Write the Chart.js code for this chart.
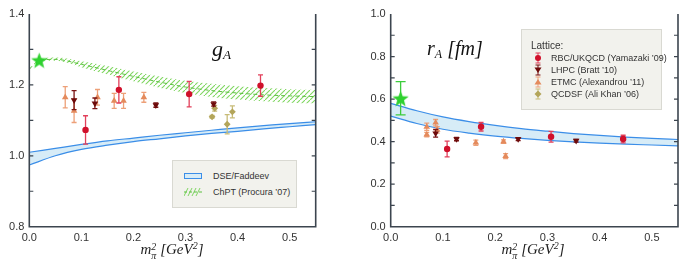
<!DOCTYPE html>
<html>
<head>
<meta charset="utf-8">
<script src="https://cdn.jsdelivr.net/npm/chart.js@4.4.0/dist/chart.umd.min.js"></script>
<style>
body { margin: 0; background: #fff; width: 691px; height: 270px; position: relative; overflow: hidden; font-family: "Liberation Sans", Arial, sans-serif; }
canvas { position: absolute; top: 0; }
#cGa { left: 0; }
#cRa { left: 345px; }
.ttl { position: absolute; font-family: "Liberation Serif", serif; font-style: italic; color: #111; white-space: nowrap; }
.ttl sub { font-size: 60%; vertical-align: -3px; }
.xt { position: absolute; top: 240px; font-family: "Liberation Serif", serif; font-style: italic; font-size: 15px; color: #222; white-space: nowrap; transform: translateX(-50%); }
.xt sup { font-size: 10px; vertical-align: 5px; }
.ss { display: inline-block; vertical-align: -5px; font-size: 10px; line-height: 9px; }
.ss span { display: block; }
.leg { position: absolute; background: #f2f2ed; border: 1px solid #d9d9d2; box-sizing: border-box; font-size: 9px; color: #333; }
.row { position: absolute; white-space: nowrap; line-height: 12px; }
.row svg { position: absolute; }
</style>
</head>
<body>
<canvas id="cGa" width="345" height="270"></canvas>
<canvas id="cRa" width="346" height="270"></canvas>

<div class="ttl" style="left:212px; top:36px; font-size:22px;">g<sub>A</sub></div>
<div class="ttl" style="left:427px; top:37px; font-size:20px;">r<sub>A</sub> [fm]</div>

<div class="xt" style="left:172px;">m<span class="ss"><span>2</span><span>π</span></span> [GeV<sup>2</sup>]</div>
<div class="xt" style="left:533px;">m<span class="ss"><span>2</span><span>π</span></span> [GeV<sup>2</sup>]</div>

<div class="leg" style="left:172px; top:160px; width:125px; height:48px;">
  <div class="row" style="left:11px; top:9px;">
    <svg width="18" height="6" style="left:0; top:3px;"><rect x="0.5" y="0.5" width="17" height="5" fill="#d7ecf7" stroke="#3b8ee8" stroke-width="1"/></svg>
    <span style="margin-left:29px;">DSE/Faddeev</span>
  </div>
  <div class="row" style="left:11px; top:25px;">
    <svg width="18" height="8" style="left:0; top:2px;">
      <g stroke="#7fd462" stroke-width="1"><line x1="0" y1="8" x2="4" y2="0"/><line x1="4" y1="8" x2="8" y2="0"/><line x1="8" y1="8" x2="12" y2="0"/><line x1="12" y1="8" x2="16" y2="0"/></g>
      <line x1="0" y1="4" x2="18" y2="4" stroke="#5cc040" stroke-width="1" stroke-dasharray="3,2"/>
    </svg>
    <span style="margin-left:29px;">ChPT (Procura ’07)</span>
  </div>
</div>

<div class="leg" style="left:521px; top:29px; width:141px; height:81px;">
  <div class="row" style="left:9px; top:10px; font-size:10px;">Lattice:</div>
  <div class="row" style="left:11px; top:22px;">
    <svg width="10" height="12" style="left:0; top:0;"><g stroke="#e0405a" stroke-width="1"><line x1="5" y1="1" x2="5" y2="11"/><line x1="2.5" y1="1" x2="7.5" y2="1"/><line x1="2.5" y1="11" x2="7.5" y2="11"/></g><circle cx="5" cy="6" r="3" fill="#d0102b"/></svg>
    <span style="margin-left:18px;">RBC/UKQCD (Yamazaki ’09)</span>
  </div>
  <div class="row" style="left:11px; top:34px;">
    <svg width="10" height="12" style="left:0; top:0;"><g stroke="#7a1010" stroke-width="1"><line x1="5" y1="1" x2="5" y2="11"/><line x1="2.5" y1="1" x2="7.5" y2="1"/><line x1="2.5" y1="11" x2="7.5" y2="11"/></g><polygon points="1.5,3.5 8.5,3.5 5,9" fill="#6d0a0a"/></svg>
    <span style="margin-left:18px;">LHPC (Bratt ’10)</span>
  </div>
  <div class="row" style="left:11px; top:46px;">
    <svg width="10" height="12" style="left:0; top:0;"><g stroke="#eda078" stroke-width="1"><line x1="5" y1="1" x2="5" y2="11"/><line x1="2.5" y1="1" x2="7.5" y2="1"/><line x1="2.5" y1="11" x2="7.5" y2="11"/></g><polygon points="1.5,8.5 8.5,8.5 5,3" fill="#e48a5c"/></svg>
    <span style="margin-left:18px;">ETMC (Alexandrou ’11)</span>
  </div>
  <div class="row" style="left:11px; top:58px;">
    <svg width="10" height="12" style="left:0; top:0;"><g stroke="#c8bc78" stroke-width="1"><line x1="5" y1="1" x2="5" y2="11"/><line x1="2.5" y1="1" x2="7.5" y2="1"/><line x1="2.5" y1="11" x2="7.5" y2="11"/></g><polygon points="5,2.5 8.5,6 5,9.5 1.5,6" fill="#b3a55a"/></svg>
    <span style="margin-left:18px;">QCDSF (Ali Khan ’06)</span>
  </div>
</div>

<script>
// axes
const xTickValues = [0, 0.1, 0.2, 0.3, 0.4, 0.5];
const gaTickValues = [0.8, 1.0, 1.2, 1.4];
const raTickValues = [0, 0.2, 0.4, 0.6, 0.8, 1.0];

// physical point (star)
const starX = [0.019];
const gaStarY = [1.27];
const raStarY = [0.604];
const raStarErr = [0.078];

// g_A lattice data
const rbcGaX = [0.108, 0.172, 0.307, 0.444];
const rbcGaY = [1.073, 1.186, 1.174, 1.198];
const rbcGaErr = [0.040, 0.037, 0.036, 0.030];
const lhpcGaX = [0.086, 0.126, 0.243, 0.354];
const lhpcGaY = [1.157, 1.148, 1.143, 1.146];
const lhpcGaErr = [0.027, 0.015, 0.006, 0.006];
const etmcGaX = [0.069, 0.086, 0.131, 0.163, 0.181, 0.220];
const etmcGaY = [1.165, 1.127, 1.165, 1.155, 1.155, 1.165];
const etmcGaErr = [0.030, 0.033, 0.022, 0.021, 0.021, 0.014];
const qcdsfGaX = [0.351, 0.356, 0.380, 0.390];
const qcdsfGaY = [1.110, 1.134, 1.089, 1.124];
const qcdsfGaErr = [0.004, 0.008, 0.027, 0.017];

// r_A lattice data
const rbcRaX = [0.108, 0.173, 0.307, 0.445];
const rbcRaY = [0.365, 0.470, 0.423, 0.412];
const rbcRaErr = [0.037, 0.020, 0.025, 0.018];
const lhpcRaX = [0.086, 0.126, 0.244, 0.355];
const lhpcRaY = [0.439, 0.412, 0.412, 0.404];
const lhpcRaErr = [0.018, 0.008, 0.007, 0.006];
const etmcRaX = [0.069, 0.069, 0.086, 0.089, 0.163, 0.216, 0.220];
const etmcRaY = [0.470, 0.433, 0.489, 0.455, 0.395, 0.400, 0.332];
const etmcRaErr = [0.017, 0.010, 0.015, 0.015, 0.012, 0.008, 0.012];

// DSE/Faddeev bands
const dseX = [0, 0.05, 0.1, 0.15, 0.2, 0.25, 0.3, 0.35, 0.4, 0.45, 0.5, 0.55];
const dseGaUp = [1.010, 1.021, 1.032, 1.042, 1.050, 1.058, 1.065, 1.072, 1.079, 1.085, 1.091, 1.096];
const dseGaLo = [0.974, 1.000, 1.018, 1.030, 1.040, 1.048, 1.056, 1.063, 1.069, 1.076, 1.082, 1.088];
const dseRaUp = [0.580, 0.545, 0.516, 0.494, 0.476, 0.461, 0.449, 0.438, 0.429, 0.421, 0.415, 0.410];
const dseRaLo = [0.520, 0.485, 0.458, 0.440, 0.426, 0.415, 0.406, 0.399, 0.393, 0.388, 0.384, 0.380];

// ChPT band (g_A)
const chptX = [0, 0.01, 0.02, 0.05, 0.1, 0.15, 0.2, 0.25, 0.3, 0.35, 0.4, 0.45, 0.5, 0.55];
const chptUp = [1.245, 1.262, 1.273, 1.277, 1.267, 1.253, 1.238, 1.224, 1.212, 1.203, 1.196, 1.191, 1.188, 1.186];
const chptLo = [1.243, 1.258, 1.268, 1.268, 1.250, 1.229, 1.210, 1.192, 1.177, 1.166, 1.159, 1.154, 1.150, 1.148];
const chptMid = [1.244, 1.260, 1.270, 1.272, 1.258, 1.241, 1.224, 1.208, 1.194, 1.184, 1.177, 1.172, 1.169, 1.167];

const pts = (xs, ys) => xs.map((x, i) => ({ x: x, y: ys[i] }));

// filled five point star
function starImage(size, color) {
    const c = document.createElement('canvas');
    c.width = size; c.height = size;
    const g = c.getContext('2d');
    const r = size / 2, ri = r * 0.42;
    g.beginPath();
    for (let i = 0; i < 10; i++) {
        const a = -Math.PI / 2 + i * Math.PI / 5;
        const rr = i % 2 ? ri : r;
        g.lineTo(r + rr * Math.cos(a), r + 1 + rr * Math.sin(a));
    }
    g.closePath();
    g.fillStyle = color;
    g.fill();
    return c;
}

function hatch() {
    const c = document.createElement('canvas');
    c.width = 5; c.height = 5;
    const g = c.getContext('2d');
    g.strokeStyle = '#7fd660';
    g.lineWidth = 1.1;
    g.beginPath();
    g.moveTo(-1, 6); g.lineTo(6, -1);
    g.stroke();
    return g.createPattern(c, 'repeat');
}

const errorBars = {
    id: 'errorBars',
    beforeDatasetDraw(chart, args) {
        const ds = chart.data.datasets[args.index];
        if (!ds.errors) return;
        const ys = chart.scales.y;
        const ctx = chart.ctx;
        ctx.save();
        ctx.strokeStyle = ds.errColor;
        ctx.lineWidth = 1.3;
        args.meta.data.forEach((p, i) => {
            const v = ds.data[i].y, e = ds.errors[i];
            const t = ys.getPixelForValue(v + e), b = ys.getPixelForValue(v - e);
            const w = ds.capWidth || 2.5;
            ctx.beginPath();
            ctx.moveTo(p.x, t); ctx.lineTo(p.x, b);
            ctx.moveTo(p.x - w, t); ctx.lineTo(p.x + w, t);
            ctx.moveTo(p.x - w, b); ctx.lineTo(p.x + w, b);
            ctx.stroke();
        });
        ctx.restore();
    }
};

const frame = {
    id: 'frame',
    afterDraw(chart, args, opts) {
        const a = chart.chartArea, ys = chart.scales.y;
        const ctx = chart.ctx;
        ctx.save();
        ctx.strokeStyle = '#3c454f';
        ctx.lineWidth = 1.6;
        ctx.beginPath();
        ctx.moveTo(a.left, a.top); ctx.lineTo(a.left, a.bottom); ctx.lineTo(a.right, a.bottom); ctx.lineTo(a.right, a.top);
        ctx.stroke();
        ctx.lineWidth = 1.2;
        ctx.beginPath();
        opts.minor.forEach(v => {
            const y = ys.getPixelForValue(v);
            ctx.moveTo(a.left, y); ctx.lineTo(a.left + 4, y);
            ctx.moveTo(a.right, y); ctx.lineTo(a.right - 4, y);
        });
        ctx.stroke();
        ctx.restore();
    }
};

function options(yMin, yMax, yTicks, yWidth, padRight, minor) {
    const tickFont = { family: '"Liberation Sans", Arial, sans-serif', size: 11 };
    return {
        animation: false,
        responsive: false,
        layout: { padding: { top: 14, right: padRight, left: 0, bottom: 0 } },
        plugins: { legend: { display: false }, tooltip: { enabled: false }, frame: { minor: minor } },
        scales: {
            x: {
                type: 'linear', min: 0, max: 0.55,
                grid: { display: false, drawTicks: false }, border: { display: false },
                afterBuildTicks: s => { s.ticks = xTickValues.map(v => ({ value: v })); },
                afterFit: s => { s.height = 43.3; },
                ticks: { padding: 5, color: '#333', font: tickFont, autoSkip: false, maxRotation: 0, callback: v => v.toFixed(1) }
            },
            y: {
                type: 'linear', min: yMin, max: yMax,
                grid: { display: false, drawTicks: false }, border: { display: false },
                afterBuildTicks: s => { s.ticks = yTicks.map(v => ({ value: v })); },
                afterFit: s => { s.width = yWidth; },
                ticks: { padding: 5, color: '#333', font: tickFont, autoSkip: false, callback: v => v.toFixed(1) }
            }
        }
    };
}

function bandSets(xs, up, lo, fill, line, ord) {
    return [
        { data: pts(xs, up), showLine: true, pointRadius: 0, borderColor: line, borderWidth: 1.2, fill: false, cubicInterpolationMode: 'monotone', order: ord },
        { data: pts(xs, lo), showLine: true, pointRadius: 0, borderColor: line, borderWidth: 1.2, fill: '-1', backgroundColor: fill, cubicInterpolationMode: 'monotone', order: ord }
    ];
}

const rbcStyle = { pointStyle: 'circle', pointRadius: 3.2, backgroundColor: '#d0102b', borderWidth: 0, errColor: '#e2405b' };
const lhpcStyle = { pointStyle: 'triangle', rotation: 180, pointRadius: 3.8, backgroundColor: '#6d0a0a', borderWidth: 0, errColor: '#7a1414' };
const etmcStyle = { pointStyle: 'triangle', pointRadius: 3.8, backgroundColor: '#e48a5c', borderWidth: 0, errColor: '#eda078' };
const qcdsfStyle = { pointStyle: 'rectRot', pointRadius: 3.4, backgroundColor: '#b3a55a', borderWidth: 0, errColor: '#c8bc78' };

const star = starImage(17, '#2fd12f');

const gaBands = bandSets(dseX, dseGaUp, dseGaLo, '#d7ecf7', '#3b8ee8', 5)
    .concat(bandSets(chptX, chptUp, chptLo, hatch(), 'rgba(0,0,0,0)', 6));
gaBands[2].borderWidth = 0;
gaBands[3].borderWidth = 0;

new Chart(document.getElementById('cGa'), {
    type: 'scatter',
    data: {
        datasets: [
            Object.assign({ data: pts(qcdsfGaX, qcdsfGaY), errors: qcdsfGaErr, order: 4 }, qcdsfStyle),
            Object.assign({ data: pts(etmcGaX, etmcGaY), errors: etmcGaErr, order: 3 }, etmcStyle),
            Object.assign({ data: pts(lhpcGaX, lhpcGaY), errors: lhpcGaErr, order: 2 }, lhpcStyle),
            Object.assign({ data: pts(rbcGaX, rbcGaY), errors: rbcGaErr, order: 1 }, rbcStyle),
            { data: pts(starX, gaStarY), pointStyle: star, order: 0 },
            { data: pts(chptX, chptMid), showLine: true, pointRadius: 0, borderColor: '#5cc040', borderWidth: 1, borderDash: [4, 3], cubicInterpolationMode: 'monotone', order: 4.5 }
        ].concat(gaBands)
    },
    options: options(0.8, 1.4, gaTickValues, 29.3, 29.3, [0.9, 1.0, 1.1, 1.2, 1.3]),
    plugins: [errorBars, frame]
});

new Chart(document.getElementById('cRa'), {
    type: 'scatter',
    data: {
        datasets: [
            Object.assign({ data: pts(etmcRaX, etmcRaY), errors: etmcRaErr, order: 3 }, etmcStyle),
            Object.assign({ data: pts(lhpcRaX, lhpcRaY), errors: lhpcRaErr, order: 2 }, lhpcStyle),
            Object.assign({ data: pts(rbcRaX, rbcRaY), errors: rbcRaErr, order: 1 }, rbcStyle),
            { data: pts(starX, raStarY), errors: raStarErr, errColor: '#3ccc3c', capWidth: 5, pointStyle: star, order: 0 }
        ].concat(bandSets(dseX, dseRaUp, dseRaLo, '#d7ecf7', '#3b8ee8', 5))
    },
    options: options(0, 1.0, raTickValues, 45.7, 13, [0.1, 0.2, 0.3, 0.4, 0.5, 0.6, 0.7, 0.8, 0.9]),
    plugins: [errorBars, frame]
});
</script>
</body>
</html>
